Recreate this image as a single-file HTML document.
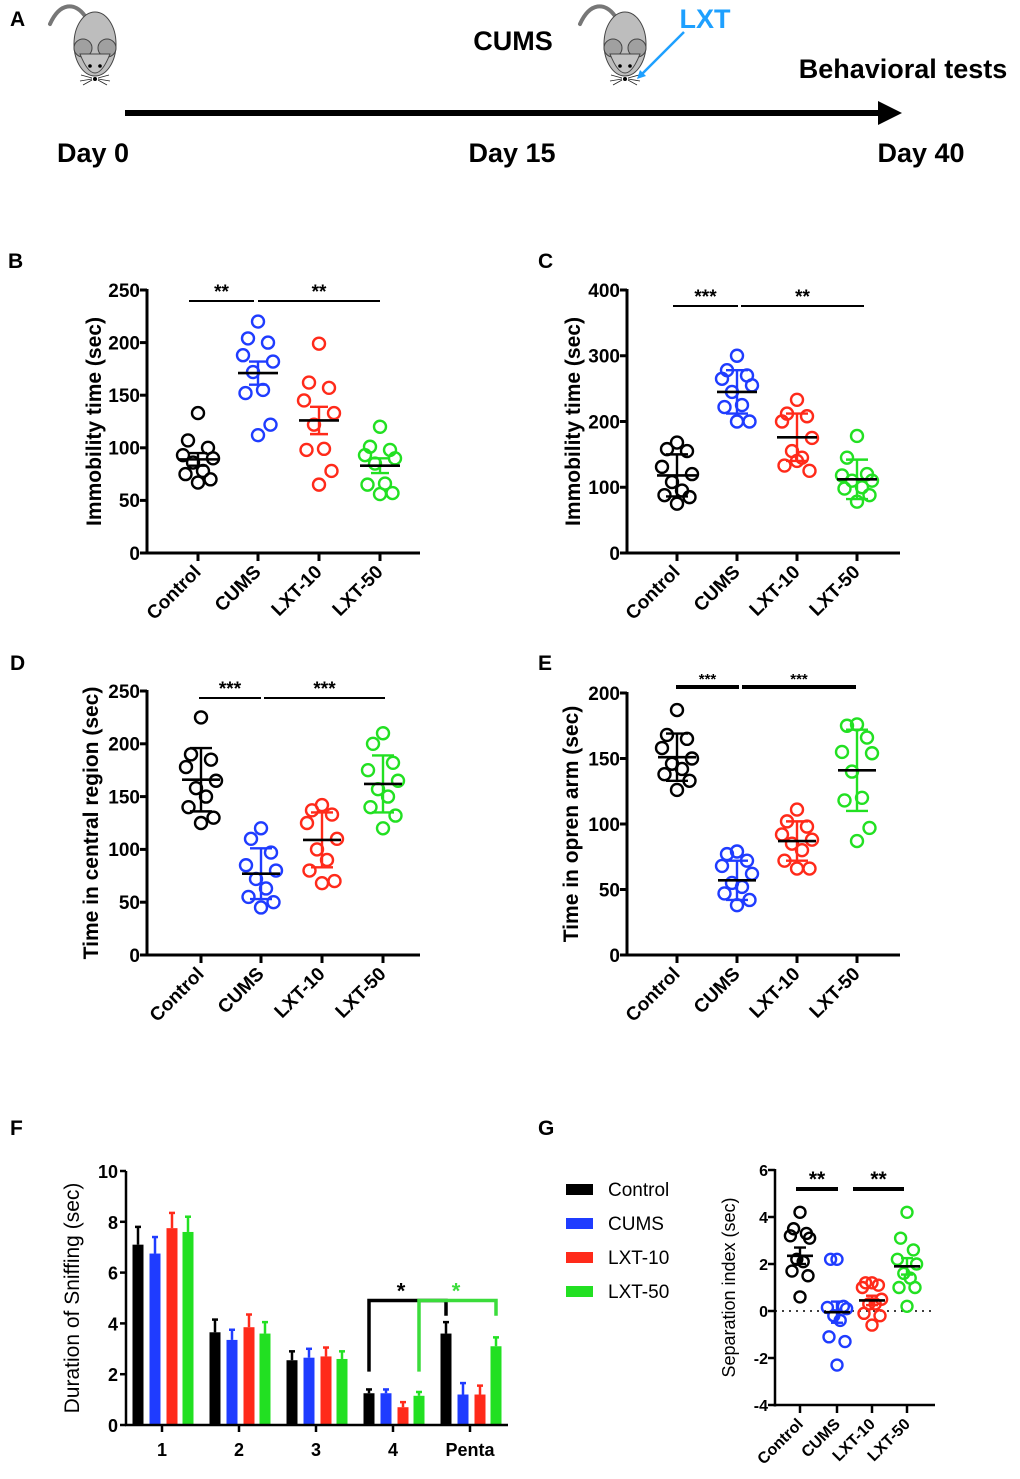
<!DOCTYPE html>
<html><head><meta charset="utf-8"><style>
body{margin:0;background:#fff}
svg{display:block;font-family:"Liberation Sans",Arial,sans-serif}
</style></head><body>
<svg id="fig" width="1020" height="1479" viewBox="0 0 1020 1479" xmlns="http://www.w3.org/2000/svg">
<g id="panelA">
<text x="10" y="26" font-size="21" font-weight="bold">A</text>
<g transform="translate(95,0)">
<path d="M-10,16 C-20,2 -35,2 -45,24" fill="none" stroke="#777" stroke-width="4" stroke-linecap="round"/>
<ellipse cx="0" cy="44" rx="21" ry="32" fill="#bdbdbd" stroke="#444" stroke-width="1"/>
<ellipse cx="-12" cy="48" rx="9" ry="9" fill="#a0a0a0" stroke="#444" stroke-width="1"/>
<ellipse cx="12" cy="48" rx="9" ry="9" fill="#a0a0a0" stroke="#444" stroke-width="1"/>
<path d="M-15,54 Q0,92 15,54 Z" fill="#c4c4c4" stroke="#444" stroke-width="1"/>
<circle cx="-5" cy="66" r="1.8"/><circle cx="5" cy="66" r="1.8"/><circle cx="0" cy="79" r="2"/>
<path d="M-3,78 L-14,75 M-3,79 L-15,81 M-3,80 L-12,85 M3,78 L14,75 M3,79 L15,81 M3,80 L12,85" stroke="#222" stroke-width="0.8"/>
</g>
<g transform="translate(625,0)">
<path d="M-10,16 C-20,2 -35,2 -45,24" fill="none" stroke="#777" stroke-width="4" stroke-linecap="round"/>
<ellipse cx="0" cy="44" rx="21" ry="32" fill="#bdbdbd" stroke="#444" stroke-width="1"/>
<ellipse cx="-12" cy="48" rx="9" ry="9" fill="#a0a0a0" stroke="#444" stroke-width="1"/>
<ellipse cx="12" cy="48" rx="9" ry="9" fill="#a0a0a0" stroke="#444" stroke-width="1"/>
<path d="M-15,54 Q0,92 15,54 Z" fill="#c4c4c4" stroke="#444" stroke-width="1"/>
<circle cx="-5" cy="66" r="1.8"/><circle cx="5" cy="66" r="1.8"/><circle cx="0" cy="79" r="2"/>
<path d="M-3,78 L-14,75 M-3,79 L-15,81 M-3,80 L-12,85 M3,78 L14,75 M3,79 L15,81 M3,80 L12,85" stroke="#222" stroke-width="0.8"/>
</g>
<line x1="684" y1="32" x2="640" y2="76" stroke="#1ea0ff" stroke-width="2.5"/>
<path d="M637,79 L640,70 L646,76 Z" fill="#1ea0ff"/>
<text x="513" y="50" font-size="27" font-weight="bold" text-anchor="middle">CUMS</text>
<text x="705" y="28" font-size="27" font-weight="bold" text-anchor="middle" fill="#1ea0ff">LXT</text>
<text x="903" y="78" font-size="27" font-weight="bold" text-anchor="middle">Behavioral tests</text>
<line x1="125" y1="113" x2="882" y2="113" stroke="#000" stroke-width="6"/>
<path d="M878,101 L902,113 L878,125 Z" fill="#000"/>
<text x="93" y="162" font-size="27" font-weight="bold" text-anchor="middle">Day 0</text>
<text x="512" y="162" font-size="27" font-weight="bold" text-anchor="middle">Day 15</text>
<text x="921" y="162" font-size="27" font-weight="bold" text-anchor="middle">Day 40</text>
</g>
</svg>
<script>
const NS="http://www.w3.org/2000/svg";
const svg=document.getElementById('fig');
const COLORS=["#000000","#1f3cff","#ff2a1a","#22e022"];
const groups=["Control","CUMS","LXT-10","LXT-50"];

// Panel B
const bValues=[[133,107,100,93,90,86,78,75,70,67],[220,204,200,188,182,172,155,152,122,112],[199,162,157,145,133,122,99,98,78,65],[120,101,98,93,90,85,66,65,57,56]];
const bMeans=[89,171,126,83];
const bErr=[6,11,13,7];
const bTicks=[0,50,100,150,200,250];
// Panel C
const cValues=[[168,158,155,131,120,108,95,88,85,75],[300,278,270,265,255,245,225,222,200,200],[233,212,208,200,175,155,145,133,125,140],[178,145,120,118,110,110,100,98,88,78]];
const cMeans=[118,245,176,112];
const cErr=[32,33,36,30];
const cTicks=[0,100,200,300,400];
// Panel D
const dValues=[[225,190,185,178,165,158,150,140,130,125],[120,110,97,85,80,72,63,55,50,45],[142,137,133,125,110,100,90,80,70,68],[210,200,182,175,165,157,150,140,132,120]];
const dMeans=[166,77,109,162];
const dErr=[30,24,26,27];
const dTicks=[0,50,100,150,200,250];
// Panel E
const eValues=[[187,168,165,158,150,146,142,138,133,126],[79,77,72,68,62,55,52,47,42,38],[111,102,98,92,88,85,80,72,66,66],[176,175,166,155,154,140,120,118,97,87]];
const eMeans=[151,57,87,141];
const eErr=[18,15,15,31];
const eTicks=[0,50,100,150,200];
// Panel G
const gValues=[[4.2,3.5,3.3,3.2,3.1,2.2,2.1,1.7,1.5,0.6],[2.2,2.2,0.2,0.15,0.1,-0.2,-0.4,-1.1,-1.3,-2.3],[1.2,1.2,1.1,1.0,0.5,0.3,0.3,-0.1,-0.2,-0.6],[4.2,3.1,2.6,2.2,2.0,1.6,1.4,1.0,1.0,0.2]];
const gMeans=[2.35,-0.05,0.45,1.9];
const gErr=[0.35,0.45,0.2,0.35];
const gTicks=[-4,-2,0,2,4,6];
// Panel F
const fCategories=["1","2","3","4","Penta"];
const fControl=[7.1,3.65,2.55,1.25,3.6];
const fCums=[6.75,3.35,2.65,1.25,1.2];
const fLxt10=[7.75,3.85,2.7,0.7,1.2];
const fLxt50=[7.6,3.6,2.6,1.15,3.1];
const fControlErr=[0.7,0.5,0.35,0.15,0.45];
const fCumsErr=[0.65,0.4,0.35,0.15,0.45];
const fLxt10Err=[0.6,0.5,0.35,0.2,0.35];
const fLxt50Err=[0.6,0.45,0.3,0.15,0.35];
const fTicks=[0,2,4,6,8,10];

function el(tag,attrs,parent,text){const e=document.createElementNS(NS,tag);for(const k in attrs)e.setAttribute(k,attrs[k]);if(text!==undefined)e.textContent=text;(parent||svg).appendChild(e);return e;}

function scatterPanel(o){
  const g=el('g',{});
  
  
  const ys=v=>o.y0-(v-o.vmin)/(o.vmax-o.vmin)*(o.y0-o.y1);
  const zeroY=ys(Math.max(o.vmin,0));
  const lab=el('text',{x:o.lx,y:o.ly,'font-size':21,'font-weight':'bold'},g,o.letter);
  
  
  const ya=el('line',{x1:o.ax,y1:o.y1-1,x2:o.ax,y2:o.y0+1.5,stroke:'#000','stroke-width':o.sw},g);
  
  
  const xa=el('line',{x1:o.ax-1.5,y1:o.y0,x2:o.axEnd,y2:o.y0,stroke:'#000','stroke-width':o.sw},g);
  
  
  o.ticks.forEach(t=>{
    el('line',{x1:o.ax-7,y1:ys(t),x2:o.ax,y2:ys(t),stroke:'#000','stroke-width':o.sw},g);
    const tl=el('text',{x:o.ax-7,y:ys(t)+o.tfs*0.36,'font-size':o.tfs,'font-weight':'bold','text-anchor':'end'},g,String(t));
    
    
  });
  const yt=el('text',{transform:`translate(${o.tx},${(o.y0+o.y1)/2}) rotate(-90)`,'font-size':o.ttfs,'font-weight':o.tw||'bold','text-anchor':'middle'},g,o.title);
  
  
  if(o.dotted){const dl=el('line',{x1:o.ax,y1:zeroY,x2:o.axEnd,y2:zeroY,stroke:'#000','stroke-width':1.5,'stroke-dasharray':'2,5'},g);}
  groups.forEach((gn,i)=>{
    const cx=o.cx[i];
    el('line',{x1:cx,y1:o.y0,x2:cx,y2:o.y0+8,stroke:'#000','stroke-width':o.sw},g);
    const cl=el('text',{transform:`translate(${cx+4},${o.y0+20}) rotate(-45)`,'font-size':o.cfs,'font-weight':'bold','text-anchor':'end'},g,gn);
    
    
    const vals=o.values[i];
    vals.forEach((v,j)=>{
      const off=[0,-8,8,-12,12,-4,4,-10,10,0][j]*o.jit;
      const c=el('circle',{cx:cx+off,cy:ys(v),r:o.r,fill:'none',stroke:COLORS[i],'stroke-width':2.4},g);
      
      
    });
    const m=o.means[i],e=o.err[i];
    const wc=COLORS[i];
    el('line',{x1:cx,y1:ys(m+e),x2:cx,y2:ys(m-e),stroke:wc,'stroke-width':2.4},g);
    el('line',{x1:cx-o.cap,y1:ys(m+e),x2:cx+o.cap,y2:ys(m+e),stroke:wc,'stroke-width':2.4},g);
    el('line',{x1:cx-o.cap,y1:ys(m-e),x2:cx+o.cap,y2:ys(m-e),stroke:wc,'stroke-width':2.4},g);
    const ml=el('line',{x1:cx-o.mw,y1:ys(m),x2:cx+o.mw,y2:ys(m),stroke:'#000','stroke-width':2.6},g);
    
    
  });
  o.sig.forEach(s=>{
    const b=el('line',{x1:s.x1,y1:s.y,x2:s.x2,y2:s.y,stroke:'#000','stroke-width':s.w||2},g);
    
    
    if(s.t){const st=el('text',{x:(s.x1+s.x2)/2,y:s.y-3,'font-size':s.fs||19,'font-weight':'bold','text-anchor':'middle'},g,s.t);
    
    }
  });
}

scatterPanel({name:'panel-b-forced-swim',letter:'B',lx:8,ly:268,ax:147,axEnd:420,y0:553,y1:290,vmin:0,vmax:250,ticks:bTicks,values:bValues,means:bMeans,err:bErr,cx:[198,258,319,380],tx:101,title:'Immobility time (sec)',tfs:19,ttfs:21,cfs:19,sw:3,r:6,jit:1.25,cap:9,mw:20,
  sig:[{x1:189,x2:254,y:301,t:'**'},{x1:258,x2:380,y:301,t:'**'}]});
scatterPanel({name:'panel-c-tail-suspension',letter:'C',lx:538,ly:268,ax:627,axEnd:900,y0:553,y1:290,vmin:0,vmax:400,ticks:cTicks,values:cValues,means:cMeans,err:cErr,cx:[677,737,797,857],tx:580,title:'Immobility time (sec)',tfs:19,ttfs:21,cfs:19,sw:3,r:6,jit:1.25,cap:11,mw:20,
  sig:[{x1:673,x2:738,y:306,t:'***'},{x1:741,x2:864,y:306,t:'**'}]});
scatterPanel({name:'panel-d-open-field',letter:'D',lx:10,ly:670,ax:147,axEnd:420,y0:955,y1:691,vmin:0,vmax:250,ticks:dTicks,values:dValues,means:dMeans,err:dErr,cx:[201,261,322,383],tx:98,title:'Time in central region (sec)',tfs:19,ttfs:21,cfs:19,sw:3,r:6,jit:1.25,cap:11,mw:19,
  sig:[{x1:199,x2:261,y:698,t:'***'},{x1:264,x2:385,y:698,t:'***'}]});
scatterPanel({name:'panel-e-elevated-plus-maze',letter:'E',lx:538,ly:670,ax:627,axEnd:900,y0:955,y1:693,vmin:0,vmax:200,ticks:eTicks,values:eValues,means:eMeans,err:eErr,cx:[677,737,797,857],tx:578,title:'Time  in opren arm (sec)',tfs:19,ttfs:21,cfs:19,sw:3,r:6,jit:1.25,cap:11,mw:19,
  sig:[{x1:676,x2:739,y:687,t:'***',w:4,fs:15},{x1:742,x2:856,y:687,t:'***',w:4,fs:15}]});
scatterPanel({name:'panel-g-separation-index',letter:'G',lx:538,ly:1135,ax:775,axEnd:935,y0:1405,y1:1170,vmin:-4,vmax:6,ticks:gTicks,values:gValues,means:gMeans,err:gErr,cx:[800,837,872,907],tx:735,title:'Separation index (sec)',tfs:16,ttfs:18,cfs:16,tw:'normal',sw:2.5,r:5.5,jit:0.8,cap:6,mw:13,dotted:true,
  sig:[{x1:796,x2:838,y:1189,t:'**',w:4,fs:21},{x1:853,x2:904,y:1189,t:'**',w:4,fs:21}]});

// Panel F bar chart
(function(){
  const g=el('g',{});
  
  
  const ax=126,y0=1425,y1=1171,axEnd=508;
  const ys=v=>y0-v/10*(y0-y1);
  const gx=[162,239,316,393,470];
  const offs=[-24,-7,10,26],bw=11;
  const series=[fControl,fCums,fLxt10,fLxt50];
  const errs=[fControlErr,fCumsErr,fLxt10Err,fLxt50Err];
  const sn=['control','cums','lxt-10','lxt-50'];
  const lab=el('text',{x:10,y:1135,'font-size':21,'font-weight':'bold'},g,'F');
  
  
  fTicks.forEach(t=>{
    el('line',{x1:ax-6,y1:ys(t),x2:ax,y2:ys(t),stroke:'#000','stroke-width':2.5},g);
    const tl=el('text',{x:ax-8,y:ys(t)+7,'font-size':18,'font-weight':'bold','text-anchor':'end'},g,String(t));
    
    
  });
  const yt=el('text',{transform:`translate(79,${(y0+y1)/2}) rotate(-90)`,'font-size':21,'text-anchor':'middle'},g,'Duration of Sniffing (sec)');
  
  
  series.forEach((s,si)=>{
    s.forEach((v,ci)=>{
      const x=gx[ci]+offs[si];
      const b=el('rect',{x:x-bw/2,y:ys(v),width:bw,height:y0-ys(v),fill:COLORS[si]},g);
      
      
      const e=errs[si][ci];
      el('line',{x1:x,y1:ys(v),x2:x,y2:ys(v+e),stroke:COLORS[si],'stroke-width':2.5},g);
      el('line',{x1:x-3,y1:ys(v+e),x2:x+3,y2:ys(v+e),stroke:COLORS[si],'stroke-width':2.5},g);
    });
  });
  el('line',{x1:ax,y1:y1,x2:ax,y2:y0+1,stroke:'#000','stroke-width':2.5},g);
  el('line',{x1:ax-1,y1:y0,x2:axEnd,y2:y0,stroke:'#000','stroke-width':2.5},g);
  fCategories.forEach((c,ci)=>{
    el('line',{x1:gx[ci],y1:y0,x2:gx[ci],y2:y0+7,stroke:'#000','stroke-width':2.5},g);
    const cl=el('text',{x:gx[ci],y:y0+31,'font-size':18,'font-weight':'bold','text-anchor':'middle'},g,c);
    
    
  });
  const x4c=gx[3]+offs[0],x4g=gx[3]+offs[3],xpc=gx[4]+offs[0],xpg=gx[4]+offs[3];
  const by=ys(4.9);
  const bk=el('path',{d:`M${x4c},${ys(2.1)} V${by} H${xpc} V${ys(4.3)}`,fill:'none',stroke:'#000','stroke-width':3.5},g);
  
  
  const gr=el('path',{d:`M${x4g},${ys(2.1)} V${by} H${xpg} V${ys(4.3)}`,fill:'none',stroke:'#3bdc3b','stroke-width':3.5},g);
  
  
  const s1=el('text',{x:401,y:ys(5.3)+8,'font-size':22,'font-weight':'bold','text-anchor':'middle'},g,'*');
  
  
  const s2=el('text',{x:456,y:ys(5.3)+8,'font-size':22,'font-weight':'bold','text-anchor':'middle',fill:'#3bdc3b'},g,'*');
  
  
  groups.forEach((gn,i)=>{
    const yy=1189+i*34;
    const sw=el('rect',{x:566,y:yy-5,width:27,height:11,fill:COLORS[i]},g);
    
    
    const lt=el('text',{x:608,y:yy+7,'font-size':19},g,gn);
    
    
  });
})();
</script>
</body></html>
